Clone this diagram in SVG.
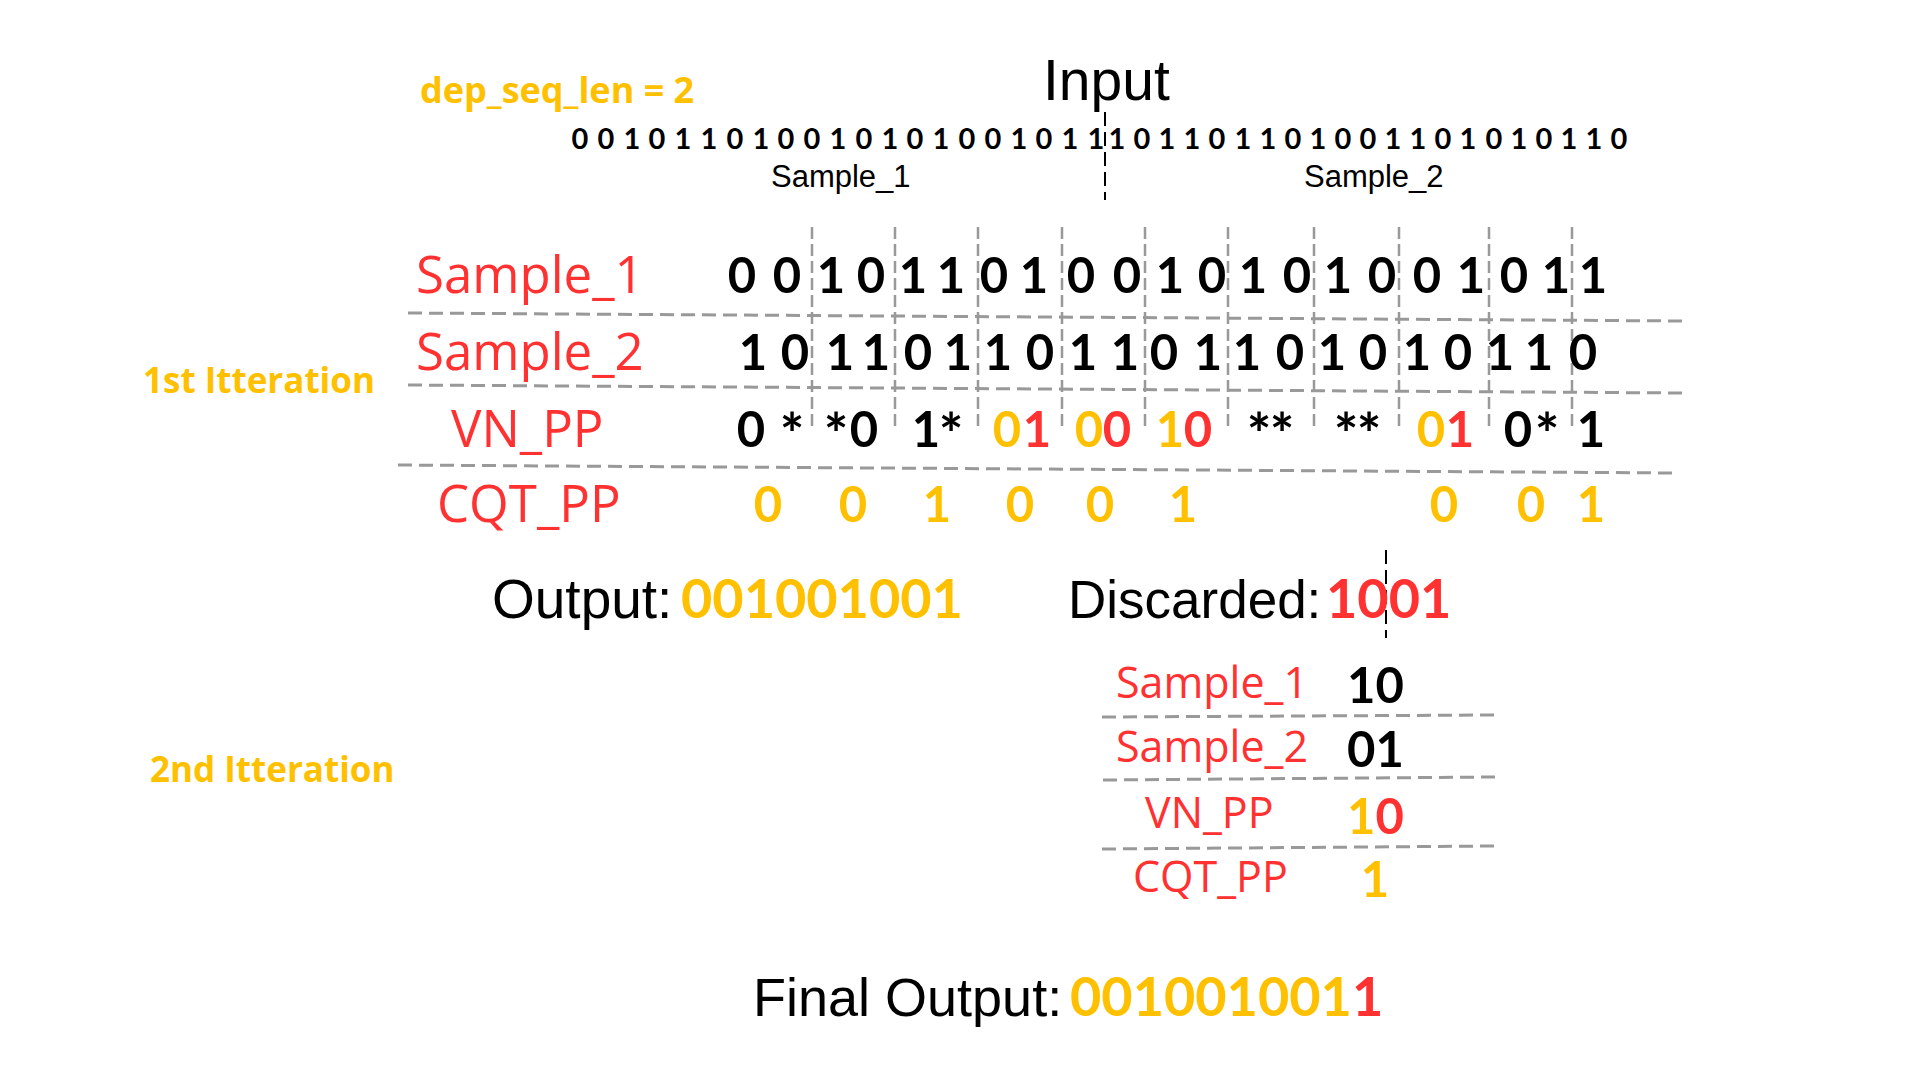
<svg xmlns="http://www.w3.org/2000/svg" width="1920" height="1080" viewBox="0 0 1920 1080">
<style>
.lbl{font-family:"Open Sans","Liberation Sans",sans-serif;fill:#FF3131}
.reg{font-family:"Liberation Sans",Arial,sans-serif;fill:#000}
.yb{font-family:"Open Sans","Liberation Sans",sans-serif;font-weight:700;fill:#FFC000}
.dg{font-family:Lato,"Open Sans",sans-serif;font-weight:700}
.k{fill:#000}.y{fill:#FFC000}.r{fill:#FF3131}
.st{fill:#000;font-size:58px}
.gl{stroke:#999;stroke-width:3;stroke-dasharray:14 7;fill:none}
.gv{stroke:#999;stroke-width:2.5;stroke-dasharray:12 5;fill:none}
.bd{stroke:#000;stroke-width:2;stroke-dasharray:14 6;fill:none}
</style>
<rect width="1920" height="1080" fill="#fff"/>

<g id="lines">
  <line class="bd" x1="1105" y1="112" x2="1105" y2="200"/>
  <line class="gl" x1="408" y1="313" x2="1685" y2="321"/>
  <line class="gl" x1="408" y1="385" x2="1685" y2="393"/>
  <line class="gl" x1="398" y1="465" x2="1677" y2="473"/>
  <g class="gv">
    <line x1="812" y1="227" x2="812" y2="428"/>
    <line x1="895" y1="227" x2="895" y2="428"/>
    <line x1="978" y1="227" x2="978" y2="428"/>
    <line x1="1062" y1="227" x2="1062" y2="428"/>
    <line x1="1145" y1="227" x2="1145" y2="428"/>
    <line x1="1228" y1="227" x2="1228" y2="428"/>
    <line x1="1314" y1="227" x2="1314" y2="428"/>
    <line x1="1399" y1="227" x2="1399" y2="428"/>
    <line x1="1489" y1="227" x2="1489" y2="428"/>
    <line x1="1572" y1="227" x2="1572" y2="428"/>
  </g>
  <line class="bd" x1="1386" y1="550" x2="1386" y2="638"/>
  <line class="gl" x1="1102" y1="717" x2="1494" y2="715"/>
  <line class="gl" x1="1103" y1="780" x2="1495" y2="777"/>
  <line class="gl" x1="1102" y1="849" x2="1494" y2="846"/>
</g>

<g id="header">
  <text class="yb" x="420" y="103" font-size="36">dep_seq_len = 2</text>
  <text class="reg" x="1043" y="100" font-size="57">Input</text>
  <text class="dg k" y="149" font-size="29" text-anchor="middle" x="580 606 632 657 683 709 735 761 786 812 838 864 890 915 941 967 993 1019 1044 1070 1096">001011010010101001011</text>
  <text class="dg k" y="149" font-size="29" text-anchor="middle" x="1117 1142 1167 1192 1217 1243 1268 1293 1318 1343 1368 1393 1418 1443 1468 1494 1519 1544 1569 1594 1619">101101101001101010110</text>
  <text class="reg" x="771" y="187" font-size="31">Sample_1</text>
  <text class="reg" x="1304" y="187" font-size="31">Sample_2</text>
</g>

<g id="iteration1">
  <text class="yb" x="143" y="393" font-size="35">1st Itteration</text>
  <text class="lbl" x="416" y="293" font-size="51">Sample_1</text>
  <text class="lbl" x="416" y="370" font-size="51">Sample_2</text>
  <text class="lbl" x="451" y="447" font-size="51">VN_PP</text>
  <text class="lbl" x="437" y="522" font-size="51">CQT_PP</text>
  <text class="dg k" y="293" font-size="49" text-anchor="middle" x="742 787 831 871 913 951 994 1034 1081 1127 1170 1212 1253 1297 1338 1382 1427 1471 1514 1556 1593">001011010010101001011</text>
  <text class="dg k" y="370" font-size="49" text-anchor="middle" x="753 795 840 876 918 958 998 1040 1083 1125 1164 1208 1247 1290 1332 1373 1417 1458 1500 1539 1583">101101101101101010110</text>
  <text class="dg" y="447" font-size="49" text-anchor="middle"><tspan class="k" x="751" y="447">0</tspan><tspan class="st" x="792" y="455">*</tspan><tspan class="st" x="836" y="455">*</tspan><tspan class="k" x="864" y="447">0</tspan><tspan class="k" x="926" y="447">1</tspan><tspan class="st" x="951" y="455">*</tspan><tspan class="y" x="1007" y="447">0</tspan><tspan class="r" x="1037" y="447">1</tspan><tspan class="y" x="1089" y="447">0</tspan><tspan class="r" x="1117" y="447">0</tspan><tspan class="y" x="1170" y="447">1</tspan><tspan class="r" x="1198" y="447">0</tspan><tspan class="st" x="1259" y="455">*</tspan><tspan class="st" x="1282" y="455">*</tspan><tspan class="st" x="1346" y="455">*</tspan><tspan class="st" x="1369" y="455">*</tspan><tspan class="y" x="1431" y="447">0</tspan><tspan class="r" x="1460" y="447">1</tspan><tspan class="k" x="1518" y="447">0</tspan><tspan class="st" x="1547" y="455">*</tspan><tspan class="k" x="1591" y="447">1</tspan></text>
  <text class="dg y" y="522" font-size="49" text-anchor="middle" x="768 853 937 1020 1100 1183 1444 1531 1591">001001001</text>
</g>

<g id="output1">
  <text class="reg" x="492" y="618" font-size="55">Output:</text>
  <text class="dg y" x="681" y="618" font-size="54">001001001</text>
  <text class="reg" x="1068" y="618" font-size="53">Discarded:</text>
  <text class="dg r" x="1326" y="618" font-size="54">1001</text>
</g>

<g id="iteration2">
  <text class="yb" x="150" y="782" font-size="35">2nd Itteration</text>
  <text class="lbl" x="1116" y="698" font-size="43">Sample_1</text>
  <text class="lbl" x="1116" y="762" font-size="43">Sample_2</text>
  <text class="lbl" x="1145" y="828" font-size="43">VN_PP</text>
  <text class="lbl" x="1133" y="892" font-size="43">CQT_PP</text>
  <text class="dg k" x="1347" y="703" font-size="49">10</text>
  <text class="dg k" x="1347" y="767" font-size="49">01</text>
  <text class="dg" x="1347" y="834" font-size="49"><tspan class="y">1</tspan><tspan class="r">0</tspan></text>
  <text class="dg y" x="1375" y="897" font-size="49" text-anchor="middle">1</text>
</g>

<g id="final">
  <text class="reg" x="753" y="1016" font-size="54">Final Output:</text>
  <text class="dg" x="1070" y="1016" font-size="54"><tspan class="y">001001001</tspan><tspan class="r">1</tspan></text>
</g>
</svg>
